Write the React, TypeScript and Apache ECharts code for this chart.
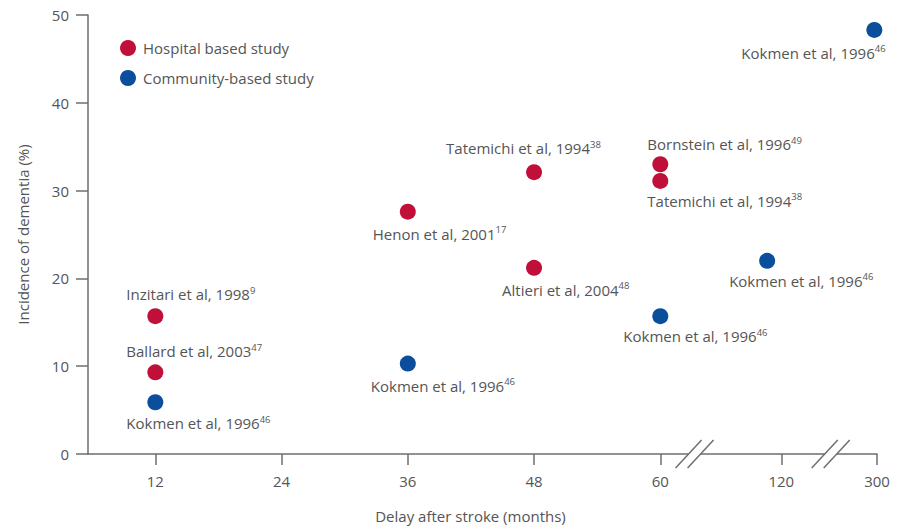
import React, { useEffect, useRef } from "react";
import * as echarts from "echarts";

// ---- data (months after stroke, incidence %) ----
const hospitalStudies = [
  "Inzitari et al, 1998",
  "Ballard et al, 2003",
  "Henon et al, 2001",
  "Tatemichi et al, 1994",
  "Altieri et al, 2004",
  "Bornstein et al, 1996",
  "Tatemichi et al, 1994",
];
const hospitalRefs = ["9", "47", "17", "38", "48", "49", "38"];
const hospitalMonths = [12, 12, 36, 48, 48, 60, 60];
const hospitalIncidence = [15.7, 9.3, 27.6, 32.1, 21.2, 33.0, 31.1];

const communityStudies = [
  "Kokmen et al, 1996",
  "Kokmen et al, 1996",
  "Kokmen et al, 1996",
  "Kokmen et al, 1996",
  "Kokmen et al, 1996",
];
const communityRefs = ["46", "46", "46", "46", "46"];
const communityMonths = [12, 36, 60, 113, 295];
const communityIncidence = [5.9, 10.3, 15.7, 22.0, 48.3];

const xTickMonths = [12, 24, 36, 48, 60, 120, 300];
const yTicks = [0, 10, 20, 30, 40, 50];
const breakMonths = [77, 213];
const xMinMonths = 5.6;

const seriesNames = ["Hospital based study", "Community-based study"];

// ---- layout (label offsets from dot centre: [dx to left edge, dy to middle]) ----
const hospitalLabelOffsets = [
  [-29, -22],
  [-29, -21],
  [-35, 22],
  [-88, -24],
  [-32, 22],
  [-13, -20],
  [-13, 20],
];
const communityLabelOffsets = [
  [-29, 21],
  [-37, 22],
  [-37, 20],
  [-38, 20],
  [-133, 23],
];

// broken axis: piecewise-linear display scale
function toU(m: number): number {
  if (m <= 60) return m;
  if (m <= 120) return 60 + ((m - 60) * 11.5) / 60;
  return 71.5 + ((m - 120) * 9.1) / 180;
}

const RED = "#c0103a";
const BLUE = "#0b4e9c";
const TEXT = "#555555";
const AXIS = "#6e6e6e";
const FONT = "'Open Sans', Lato, sans-serif";
const FS = 15;
const SYM = 16;

function buildData(
  names: string[],
  refs: string[],
  months: number[],
  vals: number[],
  offsets: number[][]
) {
  return months.map((m, i) => ({
    name: names[i],
    value: [toU(m), vals[i]],
    label: {
      show: true,
      position: [SYM / 2 + offsets[i][0], SYM / 2 + offsets[i][1]],
      align: "left",
      verticalAlign: "middle",
      formatter: `{n|${names[i]}}{s|${refs[i]}}`,
    },
  }));
}

const richLabel = {
  n: { fontSize: FS, color: TEXT, fontFamily: FONT },
  s: { fontSize: 9.5, color: TEXT, fontFamily: FONT, padding: [0, 0, 8, 0] },
};

export default function App() {
  const ref = useRef<HTMLDivElement>(null);
  useEffect(() => {
    if (!ref.current) return;
    const chart = echarts.init(ref.current, undefined, { renderer: "svg" });
    const tickU = xTickMonths.map(toU);
    chart.setOption({
      animation: false,
      backgroundColor: "#ffffff",
      textStyle: { fontFamily: FONT },
      grid: { left: 88, right: 21, top: 15, bottom: 71 },
      legend: {
        data: seriesNames,
        orient: "vertical",
        left: 115,
        top: 35,
        icon: "circle",
        itemWidth: 16,
        itemHeight: 16,
        itemGap: 14,
        itemStyle: { opacity: 1 },
        textStyle: { fontSize: FS, color: TEXT, fontFamily: FONT, padding: [0, 0, 0, 2] },
      },
      xAxis: {
        type: "value",
        min: toU(xMinMonths),
        max: toU(300),
        name: "Delay after stroke (months)",
        nameLocation: "middle",
        nameGap: 54,
        nameTextStyle: { fontSize: FS, color: TEXT, fontFamily: FONT, padding: [0, 24, 0, 0] },
        splitLine: { show: false },
        axisLine: { show: true, onZero: false, lineStyle: { color: AXIS, width: 1.5 } },
        axisTick: {
          show: true,
          length: 11,
          customValues: tickU,
          lineStyle: { color: AXIS, width: 1.5 },
        },
        axisLabel: {
          customValues: tickU,
          fontSize: FS,
          color: TEXT,
          margin: 19,
          fontFamily: FONT,
          formatter: (v: number) => {
            const idx = tickU.findIndex((t) => Math.abs(t - v) < 1e-6);
            return idx >= 0 ? String(xTickMonths[idx]) : "";
          },
        },
      },
      yAxis: {
        type: "value",
        min: 0,
        max: 50,
        interval: 10,
        name: "Incidence of dementia (%)",
        nameLocation: "middle",
        nameGap: 58,
        nameTextStyle: { fontSize: FS, color: TEXT, fontFamily: FONT },
        splitLine: { show: false },
        axisLine: { show: true, lineStyle: { color: AXIS, width: 1.5 } },
        axisTick: { show: true, length: 12, lineStyle: { color: AXIS, width: 1.5 } },
        axisLabel: {
          fontSize: FS,
          color: TEXT,
          margin: 19,
          fontFamily: FONT,
          formatter: (v: number) => (yTicks.includes(v) ? String(v) : ""),
        },
      },
      series: [
        {
          name: seriesNames[0],
          type: "scatter",
          symbol: "circle",
          symbolSize: SYM,
          itemStyle: { color: RED, opacity: 1 },
          label: { rich: richLabel },
          z: 3,
          data: buildData(hospitalStudies, hospitalRefs, hospitalMonths, hospitalIncidence, hospitalLabelOffsets),
        },
        {
          name: seriesNames[1],
          type: "scatter",
          symbol: "circle",
          symbolSize: SYM,
          itemStyle: { color: BLUE, opacity: 1 },
          label: { rich: richLabel },
          z: 3,
          data: buildData(communityStudies, communityRefs, communityMonths, communityIncidence, communityLabelOffsets),
        },
        {
          name: "breaks",
          type: "custom",
          silent: true,
          clip: false,
          z: 4,
          data: breakMonths.map((m) => [toU(m), 0]),
          renderItem: (params: any, api: any) => {
            const p = api.coord([api.value(0), api.value(1)]);
            const x = p[0];
            const y = p[1];
            const h = 14;
            const w = 13;
            const g = 6;
            return {
              type: "group",
              children: [
                {
                  type: "polygon",
                  shape: {
                    points: [
                      [x - g - w, y + h],
                      [x + g - w, y + h],
                      [x + g + w, y - h],
                      [x - g + w, y - h],
                    ],
                  },
                  style: { fill: "#ffffff" },
                },
                {
                  type: "line",
                  shape: { x1: x - g - w, y1: y + h, x2: x - g + w, y2: y - h },
                  style: { stroke: AXIS, lineWidth: 1.5 },
                },
                {
                  type: "line",
                  shape: { x1: x + g - w, y1: y + h, x2: x + g + w, y2: y - h },
                  style: { stroke: AXIS, lineWidth: 1.5 },
                },
              ],
            };
          },
        },
      ],
    });
    return () => chart.dispose();
  }, []);
  return (
    <div
      ref={ref}
      style={{ position: "fixed", left: 0, top: 0, width: 898, height: 528, background: "#fff" }}
    />
  );
}
